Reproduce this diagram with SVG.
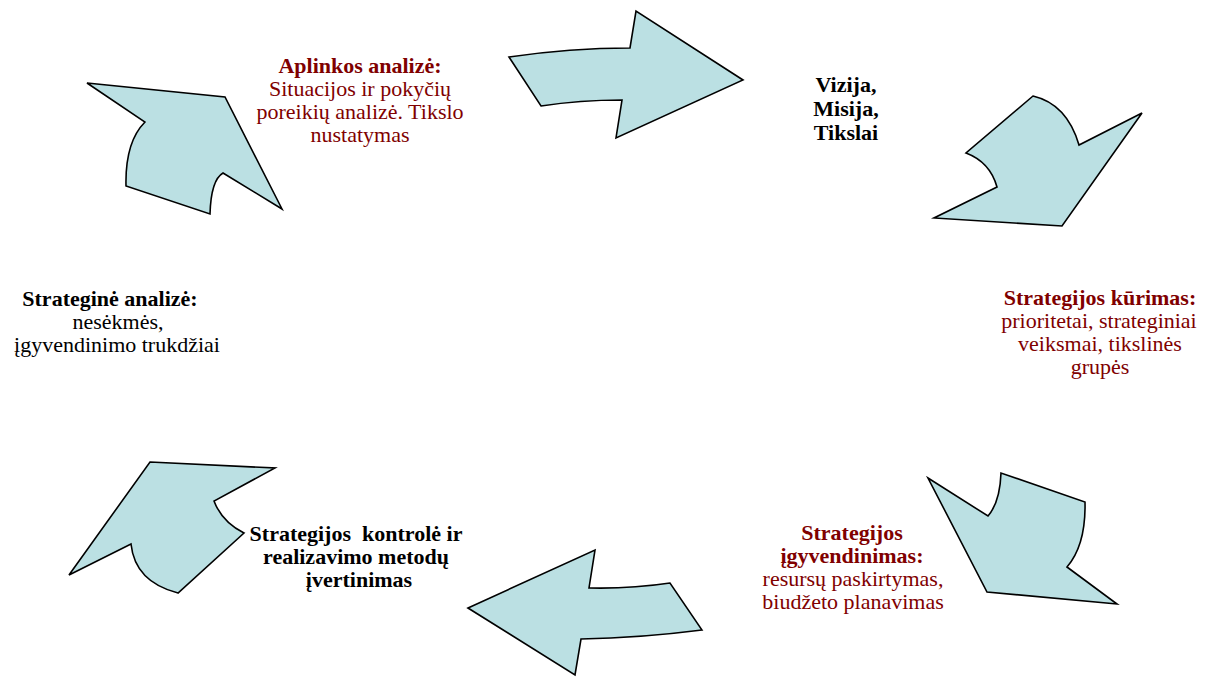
<svg xmlns="http://www.w3.org/2000/svg" width="1210" height="677" viewBox="0 0 1210 677">
<style>
.arr{fill:#BBE0E3;stroke:#000;stroke-width:1.6;stroke-linejoin:miter}
.t{font-family:'Liberation Serif','Times New Roman',serif;font-size:22px;text-anchor:middle}
.b{font-weight:bold}
.red{fill:#800000}
.blk{fill:#000}
</style>
<rect width="1210" height="677" fill="#fff"/>
<g id="connectors">
<path id="arrow-top-left" class="arr" d="M87,83 L225,97 L282,209 L223,173 Q211,180 210,214 L126,186 Q125,142 145,122 Z"/>
<path id="arrow-top" class="arr" d="M509,57 Q570,48 630,48 L636,11 L743,80 L616,138 L622,100 Q580,100 541,106 Z"/>
<path id="arrow-top-right" class="arr" d="M1033,96 Q1067,104 1079,145 L1142,113 L1062,226 L934,218 L997,187 Q990,162 966,153 Z"/>
<path id="arrow-bottom-right" class="arr" d="M928,478 L988,516 Q1000,502 1001,473 L1085,502 Q1086,545 1067,567 L1117,604 L987,592 Z"/>
<path id="arrow-bottom" class="arr" d="M468,608 L595,550 L589,588 Q630,589 670,583 L702,630 Q640,638 581,639 L575,675 Z"/>
<path id="arrow-bottom-left" class="arr" d="M150,462 L275,468 L214,501 Q222,522 244,533 L178,593 Q135,582 131,544 L69,575 Z"/>
</g>
<g id="node-aplinkos" class="t" font-family="Liberation Serif, serif">
<text class="b red" x="360" y="73">Aplinkos analizė:</text>
<text class="red" x="360" y="96">Situacijos ir pokyčių</text>
<text class="red" x="360" y="119">poreikių analizė. Tikslo</text>
<text class="red" x="360" y="142">nustatymas</text>
</g>
<g id="node-vizija" class="t" font-family="Liberation Serif, serif">
<text class="b blk" x="846" y="92">Vizija,</text>
<text class="b blk" x="846" y="116">Misija,</text>
<text class="b blk" x="846" y="140">Tikslai</text>
</g>
<g id="node-kurimas" class="t" font-family="Liberation Serif, serif">
<text class="b red" x="1100" y="305">Strategijos kūrimas:</text>
<text class="red" x="1099" y="328">prioritetai, strateginiai</text>
<text class="red" x="1100" y="351">veiksmai, tikslinės</text>
<text class="red" x="1100" y="374">grupės</text>
</g>
<g id="node-igyvendinimas" class="t" font-family="Liberation Serif, serif">
<text class="b red" x="852" y="540">Strategijos</text>
<text class="b red" x="852" y="563">įgyvendinimas:</text>
<text class="red" x="853" y="586">resursų paskirtymas,</text>
<text class="red" x="853" y="609">biudžeto planavimas</text>
</g>
<g id="node-kontrole" class="t" font-family="Liberation Serif, serif">
<text class="b blk" x="356" y="541" xml:space="preserve">Strategijos  kontrolė ir</text>
<text class="b blk" x="356" y="564">realizavimo metodų</text>
<text class="b blk" x="359" y="587">įvertinimas</text>
</g>
<g id="node-strategine" class="t" font-family="Liberation Serif, serif">
<text class="b blk" x="110" y="306">Strateginė analizė:</text>
<text class="blk" x="118" y="329">nesėkmės,</text>
<text class="blk" x="117" y="352">įgyvendinimo trukdžiai</text>
</g>
</svg>
